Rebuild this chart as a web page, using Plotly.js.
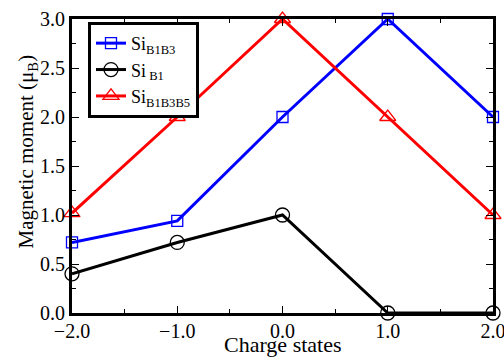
<!DOCTYPE html>
<html><head><meta charset="utf-8">
<script src="https://cdn.plot.ly/plotly-3.0.1.min.js"></script>
<style>html,body{margin:0;padding:0;background:#fff;}#chart{width:504px;height:359px;}</style>
</head><body><div id="chart"></div>
<script>
const charges = [-2, -1, 0, 1, 2];
const siB1B3 = [0.72, 0.94, 2.0, 3.0, 2.0];
const siB1 = [0.40, 0.72, 1.0, 0.0, 0.0];
const siB1B3B5 = [1.02, 2.0, 3.0, 2.0, 1.0];
const names = ['Si<sub>B1B3</sub>', 'Si<sub> B1</sub>', 'Si<sub>B1B3B5</sub>'];
const xTitle = 'Charge states';
const yTitle = 'Magnetic moment (μ<sub>B</sub>)';

const font = "Liberation Serif";
function tr(y, name, color, symbol, size) {
  return {x: charges, y: y, name: name, type: 'scatter', mode: 'lines+markers',
    cliponaxis: false,
    line: {color: color, width: 3},
    marker: {symbol: symbol, size: size, color: color, line: {color: color, width: 1.3}}};
}
const data = [
  tr(siB1B3, names[0], '#0000ff', 'square-open', 11),
  tr(siB1, names[1], '#000000', 'circle-open', 14),
  tr(siB1B3B5, names[2], '#ff0000', 'triangle-up-open', 14)
];
const axBase = {showline: true, linecolor: '#000', linewidth: 3, mirror: 'ticks',
  ticks: 'inside', ticklen: 7, tickwidth: 1, tickcolor: '#000', showgrid: false, zeroline: false,
  ticklabeloverflow: 'allow',
  tickfont: {family: font, size: 20, color: '#000'}};
const layout = {
  width: 504, height: 359,
  margin: {l: 72, r: 11, t: 19, b: 46},
  paper_bgcolor: '#fff', plot_bgcolor: '#fff',
  showlegend: true,
  font: {family: font, color: '#000'},
  xaxis: Object.assign({}, axBase, {range: [-2, 2], dtick: 1, tickformat: '.1f', ticklabelstandoff: -2,
    minor: {ticks: 'inside', ticklen: 4, dtick: 0.5, tickcolor: '#000'}}),
  yaxis: Object.assign({}, axBase, {range: [0, 3], dtick: 0.5, tickformat: '.1f',
    minor: {ticks: 'inside', ticklen: 4, dtick: 0.25, tickcolor: '#000'}}),
  annotations: [
    {text: xTitle, xref: 'paper', yref: 'paper', x: 0.5, y: -0.107, xanchor: 'center', yanchor: 'middle',
     showarrow: false, font: {family: font, size: 22, color: '#000'}},
    {text: yTitle, xref: 'paper', yref: 'paper', x: -0.107, y: 0.549, xanchor: 'center', yanchor: 'middle',
     textangle: -90, showarrow: false, font: {family: font, size: 21, color: '#000'}}
  ],
  legend: {x: 0.038, y: 0.99, xanchor: 'left', yanchor: 'top', bgcolor: '#fff',
    bordercolor: '#000', borderwidth: 3, font: {family: font, size: 18, color: '#000'},
    tracegroupgap: 0, itemwidth: 30}
};
Plotly.newPlot('chart', data, layout, {displayModeBar: false, staticPlot: true});
</script></body></html>
